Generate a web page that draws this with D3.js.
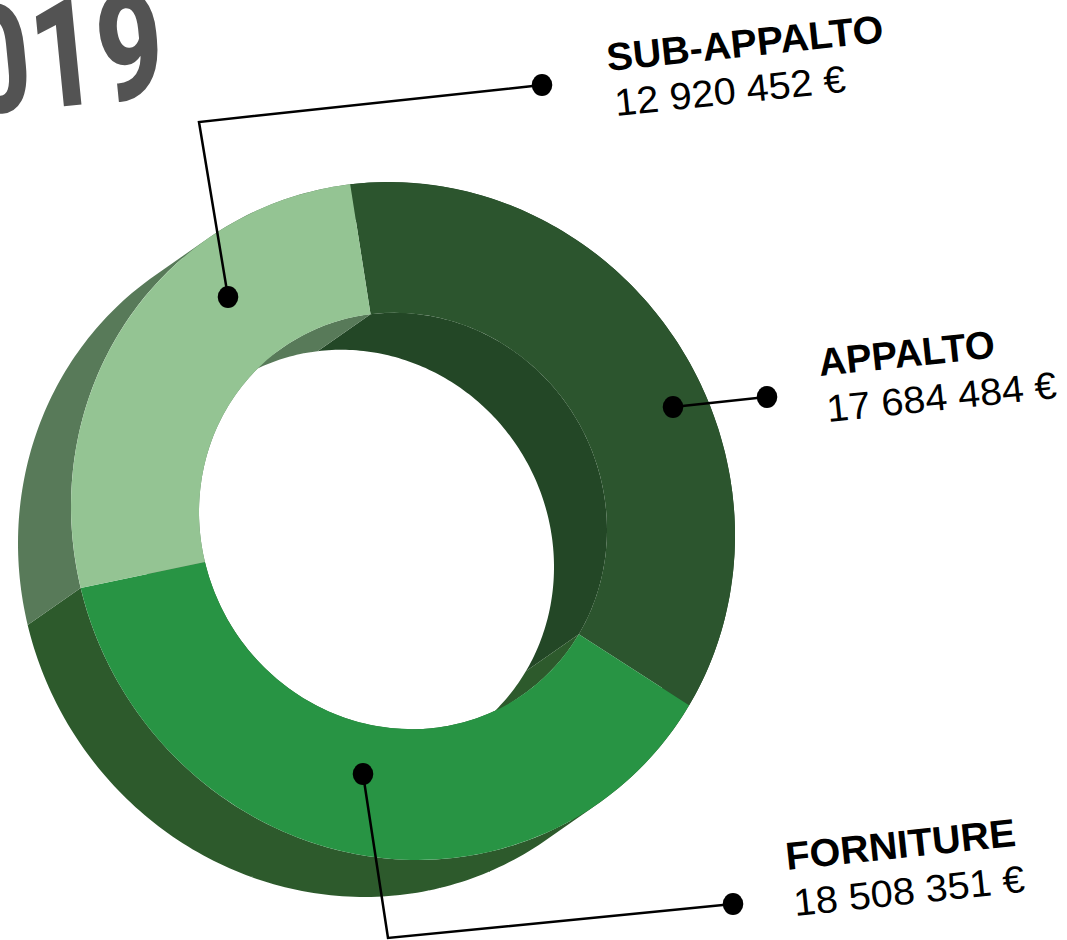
<!DOCTYPE html>
<html><head><meta charset="utf-8">
<script src="https://cdnjs.cloudflare.com/ajax/libs/d3/7.8.5/d3.min.js"></script>
<style>html,body{margin:0;padding:0;background:#fff;overflow:hidden}svg{display:block}text{font-family:"Liberation Sans",Arial,sans-serif;fill:#000}</style>
</head><body><svg id="c" width="1067" height="940"></svg>
<script>
const categories = ["APPALTO", "FORNITURE", "SUB-APPALTO"];
const amounts = [17684484, 18508351, 12920452];
const amountLabels = ["17 684 484 €", "18 508 351 €", "12 920 452 €"];
const yearLabel = "2019";
const faceColors = ["#2c552e", "#289444", "#94c493"];
const wallColors = ["#234726", "#2d5a2c", "#587a59"];

const svg = d3.select("#c");
const W = {cx:403, cy:521, R:332, r:204, shear:0.044, sy:1.02, dx:-53, dy:38.6, start:-9.15};
const rad = d => d*Math.PI/180;
const pie = d3.pie().sort(null).value(d=>d)
  .startAngle(rad(W.start)).endAngle(rad(W.start+360));
const arcs = pie(amounts);
const arc = d3.arc().innerRadius(W.r).outerRadius(W.R);

// year
svg.append("text").text(yearLabel)
  .attr("transform","translate(168,96) rotate(-5.6) scale(0.76,1)")
  .attr("text-anchor","end").style("font-family","Roboto").style("font-weight",800)
  .style("font-size","152px").style("fill","#535353");

const ring = svg.append("g").attr("transform",`matrix(1,${W.shear},0,${W.sy},${W.cx},${W.cy})`);

// swept wall of an arc along the extrusion vector: union of same-wound quads
function wall(radius,a0,a1){
  const n=Math.ceil((a1-a0)/rad(1)), P=a=>[radius*Math.sin(a),-radius*Math.cos(a)];
  let s="";
  for(let i=0;i<n;i++){
    const p=P(a0+(a1-a0)*i/n), q=P(a0+(a1-a0)*(i+1)/n);
    let poly=[p,q,[q[0]+W.dx,q[1]+W.dy],[p[0]+W.dx,p[1]+W.dy]];
    if(d3.polygonArea(poly)<0) poly.reverse();
    s+="M"+poly.map(d=>d.join(",")).join("L")+"Z";
  }
  return s;
}
ring.selectAll("path.outer").data(arcs).join("path").attr("class","outer")
  .attr("d",d=>wall(W.R,d.startAngle,d.endAngle))
  .attr("fill",(d,i)=>wallColors[i]);
ring.selectAll("path.inner").data(arcs).join("path").attr("class","inner")
  .attr("d",d=>wall(W.r,d.startAngle,d.endAngle))
  .attr("fill",(d,i)=>wallColors[i]);
ring.selectAll("path.face").data(arcs).join("path").attr("class","face")
  .attr("d",arc).attr("fill",(d,i)=>faceColors[i]);

// leaders
const leaders = [
  [[673,407],[767,397]],
  [[363,774],[388,938],[733,904]],
  [[228,297],[199,122],[542,85]]
];
const line=d3.line();
leaders.forEach(l=>{
  svg.append("path").attr("d",line(l)).attr("fill","none").attr("stroke","#000").attr("stroke-width",2.5);
  [l[0],l[l.length-1]].forEach(p=>svg.append("ellipse").attr("cx",p[0]).attr("cy",p[1]).attr("rx",10.3).attr("ry",11).attr("fill","#000"));
});

// labels
const labelPos = [
  {n:[820,376],nw:177,v:[828,422],vw:231},
  {n:[787,870],nw:231,v:[795,916],vw:232},
  {n:[608,71],nw:278,v:[616,116],vw:232}
];
labelPos.forEach((p,i)=>{
  svg.append("text").text(categories[i]).attr("transform",`translate(${p.n}) rotate(-6)`)
    .attr("textLength",p.nw).attr("lengthAdjust","spacingAndGlyphs")
    .style("font-size","39px").style("font-weight",700);
  svg.append("text").text(amountLabels[i]).attr("transform",`translate(${p.v}) rotate(-6)`)
    .attr("textLength",p.vw).attr("lengthAdjust","spacingAndGlyphs")
    .style("font-size","38px");
});
</script></body></html>
